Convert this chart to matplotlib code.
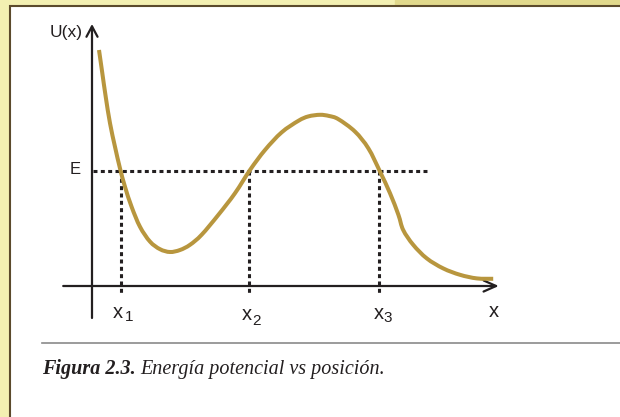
import matplotlib.pyplot as plt
from matplotlib.patches import Rectangle, PathPatch
from matplotlib.path import Path

# curve (x, U) in arbitrary units
xVals = [0.175, 0.258, 0.343, 0.45, 0.575, 0.70, 0.825, 0.99, 1.20, 1.45, 1.70, 1.95,
         2.20, 2.45, 2.74, 3.16, 3.575, 3.95, 4.325, 4.74, 5.16, 5.41, 5.70, 5.93,
         6.16, 6.575, 6.91, 7.20, 7.45, 7.66, 7.78, 8.03, 8.37, 8.78, 9.20, 9.62, 10.03]
uVals = [5.90, 5.32, 4.73, 4.07, 3.48, 2.94, 2.48, 1.98, 1.48, 1.11, 0.92, 0.85,
         0.90, 1.03, 1.28, 1.78, 2.32, 2.90, 3.40, 3.84, 4.13, 4.24, 4.28, 4.25,
         4.17, 3.86, 3.44, 2.86, 2.32, 1.78, 1.40, 1.03, 0.69, 0.44, 0.28, 0.19, 0.18]

# energy level and turning points
E = 2.88
turnX = [0.725, 3.925, 7.175]
turnLabels = ["1", "2", "3"]
eLineEnd = 8.45

curveColor = "#B8963E"
ink = "#231F20"

W, H, dpi = 620, 417, 100
fig = plt.figure(figsize=(W / dpi, H / dpi), dpi=dpi)

# page decoration (pixel coordinates)
deco = fig.add_axes([0, 0, 1, 1])
deco.set_xlim(0, W)
deco.set_ylim(H, 0)
deco.axis("off")
deco.add_patch(Rectangle((0, 0), W, H, color="#F3F0B2", zorder=0))
deco.add_patch(Rectangle((395, 0), W - 395, 7, color="#E1D98C", zorder=0))
deco.add_patch(Rectangle((10, 6), W + 20, H + 20, facecolor="white",
                         edgecolor="#5B4A2C", linewidth=1.5, zorder=1))
deco.plot([42, W], [343, 343], color="#8A8A8A", lw=1.2, zorder=2)

# chart in data units: 40 px per unit, origin at pixel (92, 286)
ax = fig.add_axes([0, 0, 1, 1])
ax.set_xlim(-92 / 40, (W - 92) / 40)
ax.set_ylim(-(H - 286) / 40, 286 / 40)
ax.axis("off")
ax.patch.set_alpha(0)

# axes with open arrowheads
ax.annotate("", xy=(10.17, 0), xytext=(-0.72, 0),
            arrowprops=dict(arrowstyle="->,head_length=0.9,head_width=0.4", color=ink, lw=1.6,
                            shrinkA=0, shrinkB=0))
ax.annotate("", xy=(0, 6.55), xytext=(0, -0.8),
            arrowprops=dict(arrowstyle="->,head_length=0.75,head_width=0.4", color=ink, lw=1.6,
                            shrinkA=0, shrinkB=0))

# dotted energy line and drop lines
dots = dict(color=ink, lw=2.2, linestyle=(0, (1.3, 1.1)), dash_capstyle="butt")
ax.plot([0.03, eLineEnd], [E, E], **dots)
for xt in turnX:
    ax.plot([xt, xt], [E, -0.18], **dots)

# smooth path through the read points (Catmull-Rom as cubic Bezier segments)
pts = list(zip(xVals, uVals))
verts = [pts[0]]
codes = [Path.MOVETO]
for i in range(len(pts) - 1):
    p0 = pts[max(i - 1, 0)]
    p1 = pts[i]
    p2 = pts[i + 1]
    p3 = pts[min(i + 2, len(pts) - 1)]
    c1 = (p1[0] + (p2[0] - p0[0]) / 6, p1[1] + (p2[1] - p0[1]) / 6)
    c2 = (p2[0] - (p3[0] - p1[0]) / 6, p2[1] - (p3[1] - p1[1]) / 6)
    verts += [c1, c2, p2]
    codes += [Path.CURVE4] * 3
ax.add_patch(PathPatch(Path(verts, codes), facecolor="none", edgecolor=curveColor,
                       lw=2.9, capstyle="butt", zorder=5))

# labels
sans = "Liberation Sans"
ax.text(-0.23, 6.33, "U(x)", ha="right", va="center", fontsize=12.5, family=sans, color=ink)
ax.text(-0.28, E + 0.03, "E", ha="right", va="center", fontsize=12, family=sans, color=ink)
subOffsets = [(-0.07, -0.65, 0.2, -0.78), (-0.05, -0.72, 0.18, -0.87), (0.0, -0.68, 0.22, -0.80)]
for xt, lab, (dx, dy, sdx, sdy) in zip(turnX, turnLabels, subOffsets):
    ax.text(xt + dx, dy, "x", ha="center", va="center", fontsize=14.5, family=sans, color=ink)
    ax.text(xt + sdx, sdy, lab, ha="center", va="center", fontsize=11, family=sans, color=ink)
ax.text(10.05, -0.63, "x", ha="center", va="center", fontsize=14.5, family=sans, color=ink)

# caption
serif = "Liberation Serif"
t1 = deco.text(42, 374, "Figura 2.3.", ha="left", va="baseline", fontsize=14.5,
               family=serif, style="italic", weight="bold", color="#231F20")
fig.canvas.draw()
bb = t1.get_window_extent()
deco.text(bb.x1 + 5, 374, "Energía potencial vs posición.", ha="left", va="baseline",
          fontsize=14.5, family=serif, style="italic", color="#231F20")

fig.savefig("out.png", dpi=dpi)
